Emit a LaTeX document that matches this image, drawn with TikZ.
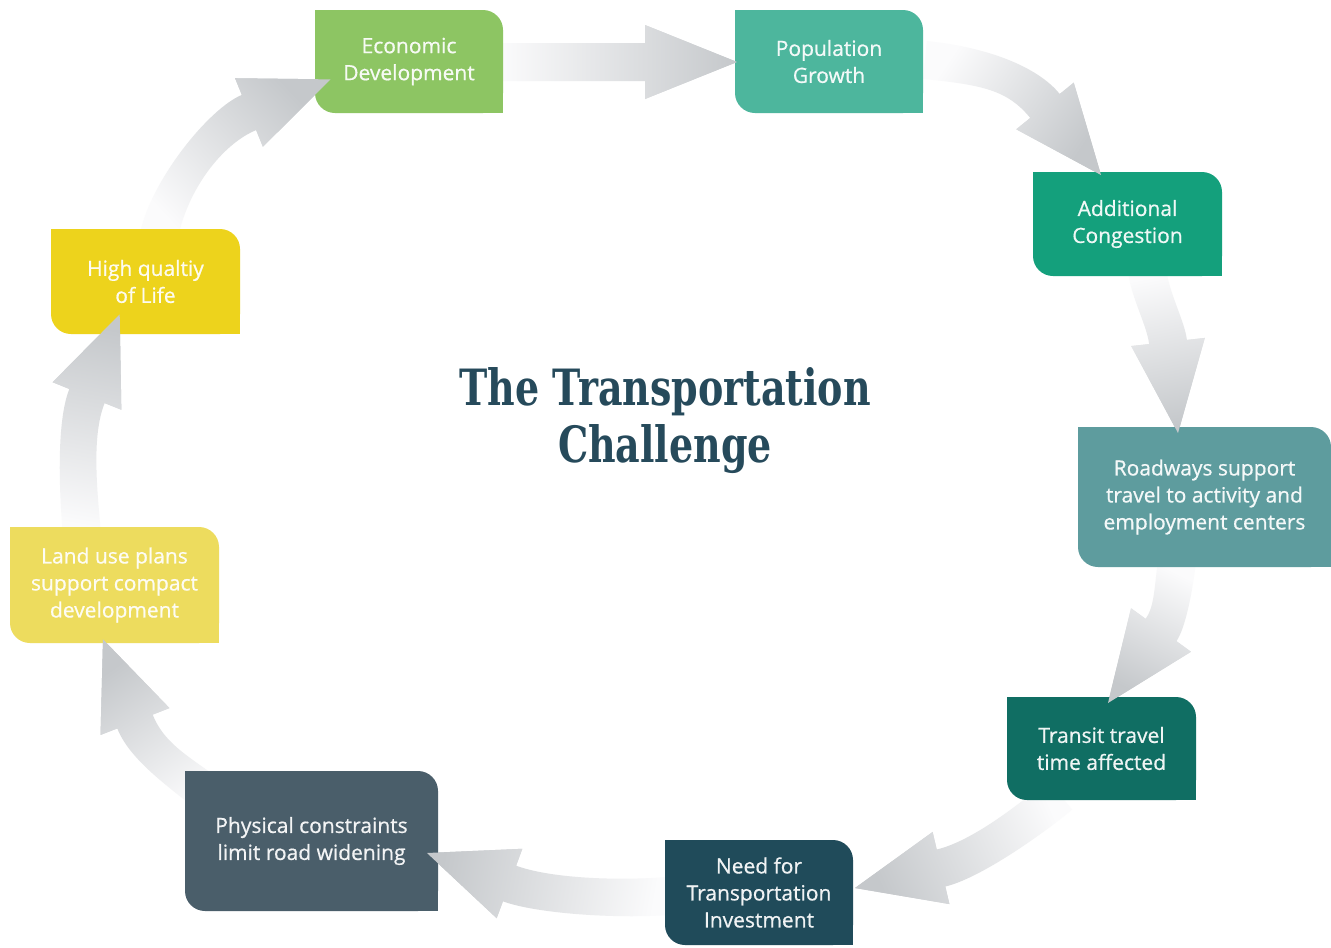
\documentclass[tikz,border=0pt]{standalone}
\usepackage{fontspec}
\usetikzlibrary{calc}
\newfontfamily\boxfam[FakeBold=0.6]{Open Sans}
\newfontfamily\titlefam[FakeStretch=0.76]{DejaVu Serif}
\definecolor{cEcon}{HTML}{8DC563}
\definecolor{cPop}{HTML}{4DB69D}
\definecolor{cAdd}{HTML}{14A07C}
\definecolor{cRoad}{HTML}{5E9C9E}
\definecolor{cTransit}{HTML}{106E63}
\definecolor{cNeed}{HTML}{204B5A}
\definecolor{cPhys}{HTML}{4A5E6A}
\definecolor{cLand}{HTML}{EDDC5E}
\definecolor{cHigh}{HTML}{EDD31C}
\definecolor{arrowhead}{HTML}{C5C8CB}
\definecolor{arrowtail}{HTML}{FBFBFC}
\definecolor{titlec}{HTML}{264A5B}
\pgfdeclarelayer{bg}\pgfdeclarelayer{arrows}\pgfdeclarelayer{boxes}
\pgfsetlayers{bg,arrows,boxes,main}
\tikzset{
  box/.style={inner sep=0pt, outer sep=0pt, align=center, text=white, text opacity=0.93,
    font=\boxfam\fontsize{21}{27}\selectfont},
  arrowshade/.style={top color=arrowhead, bottom color=arrowtail},
  titlestyle/.style={align=center, text=titlec, font=\titlefam\bfseries\fontsize{50}{57}\selectfont}
}
\newcommand\boxfill[2]{%
  \fill[#2, rounded corners=20pt] (#1.north west) rectangle (#1.south east);
  \fill[#2] (#1.north west) rectangle ++(22pt,-22pt);
  \fill[#2] (#1.south east) rectangle ++(-22pt,22pt);}
\newcommand\mkarrow[6]{%
  \coordinate (#1A) at (#2);
  \coordinate (#1C) at (#3);
  \coordinate (#1B) at (#4);
  \coordinate (#1P) at (#5);
  \coordinate (#1D) at ($(#1P)!#6!(#1B)$);
  \coordinate (#1Al) at ($(#1A)!19pt!90:(#1C)$);
  \coordinate (#1Ar) at ($(#1A)!19pt!-90:(#1C)$);
  \coordinate (#1Bl) at ($(#1B)!19pt!90:(#1P)$);
  \coordinate (#1Br) at ($(#1B)!19pt!-90:(#1P)$);
  \coordinate (#1Hl) at ($(#1B)!37pt!90:(#1P)$);
  \coordinate (#1Hr) at ($(#1B)!37pt!-90:(#1P)$);
  \coordinate (#1Cl) at ($(#1C)+(#1Al)-(#1A)$);
  \coordinate (#1Cr) at ($(#1C)+(#1Ar)-(#1A)$);
  \coordinate (#1Dl) at ($(#1D)+(#1Bl)-(#1B)$);
  \coordinate (#1Dr) at ($(#1D)+(#1Br)-(#1B)$);}
\newcommand\arrowpath[1]{(#1Al) .. controls (#1Cl) and (#1Dl) .. (#1Bl) -- (#1Hl) -- (#1P) -- (#1Hr) -- (#1Br) .. controls (#1Dr) and (#1Cr) .. (#1Ar) -- cycle}
\newcommand\shadearrow[2]{\shade[arrowshade, shading angle=#2] \arrowpath{#1};}
\newcommand\arrowtip[2]{\begin{scope}\clip (#1Hl) -- (#1P) -- (#1Hr) -- cycle; \shadearrow{#1}{#2}\end{scope}}
\begin{document}
\begin{tikzpicture}[x=1pt, y=1pt]
\useasboundingbox (0,0) rectangle (1331,-948);
\begin{pgfonlayer}{bg}
\fill[white] (0,0) rectangle (1331,-948);
\end{pgfonlayer}

% boxes (text)
\node[box, minimum width=188pt, minimum height=103pt] (econ) at (409,-61.5) {Economic\\Development};
\node[box, minimum width=188pt, minimum height=103pt] (pop) at (829,-61.5) {Population\\Growth};
\node[box, minimum width=189pt, minimum height=104pt] (add) at (1127.5,-224) {Additional\\Congestion};
\node[box, minimum width=253pt, minimum height=140pt] (road) at (1204.5,-497) {Roadways support\\travel to activity and\\employment centers};
\node[box, minimum width=189pt, minimum height=103pt] (transit) at (1101.5,-748.5) {Transit travel\\time affected};
\node[box, minimum width=188pt, minimum height=105pt] (need) at (759,-892.5) {Need for\\Transportation\\Investment};
\node[box, minimum width=253pt, minimum height=140pt] (phys) at (311.5,-841) {Physical constraints\\limit road widening};
\node[box, minimum width=209pt, minimum height=116pt] (land) at (114.5,-585) {Land use plans\\support compact\\development};
\node[box, minimum width=189pt, minimum height=105pt] (high) at (145.5,-281.5) {High qualtiy\\of Life};

\node[titlestyle] (title) at (665,-421) {The Transportation\\Challenge};

\begin{pgfonlayer}{boxes}
\boxfill{econ}{cEcon}
\boxfill{pop}{cPop}
\boxfill{add}{cAdd}
\boxfill{road}{cRoad}
\boxfill{transit}{cTransit}
\boxfill{need}{cNeed}
\boxfill{phys}{cPhys}
\boxfill{land}{cLand}
\boxfill{high}{cHigh}
\end{pgfonlayer}

% arrows
\mkarrow{a1}{500,-62}{560,-62}{645,-62}{737,-62}{1.4}
\mkarrow{a2}{925,-60}{985,-66}{1045,-106}{1101,-175}{1.4}
\mkarrow{a3}{1147,-270}{1150,-295}{1168,-342}{1178,-433}{1.2}
\mkarrow{a4}{1177,-560}{1173,-595}{1161,-630}{1108,-703}{1.15}
\mkarrow{a5}{1060,-795}{1030,-820}{941,-868}{855,-888}{1.4}
\mkarrow{a6}{668,-896}{615,-900}{509.5,-883.5}{427,-853}{1.4}
\mkarrow{a7}{215,-800}{185,-775}{135,-721.5}{103,-639.4}{1.4}
\mkarrow{a8}{82,-535}{78,-490}{87,-396}{119.7,-314.3}{1.4}
\mkarrow{a9}{158,-240}{168,-185}{249,-112.5}{330.5,-79.4}{1.4}

\begin{pgfonlayer}{arrows}
\shadearrow{a1}{-90}
\shadearrow{a2}{-124}
\shadearrow{a3}{-169}
\shadearrow{a4}{154}
\shadearrow{a5}{114}
\shadearrow{a6}{80}
\shadearrow{a7}{35}
\shadearrow{a8}{-10}
\shadearrow{a9}{-47}
\end{pgfonlayer}

\arrowtip{a1}{-90}
\arrowtip{a2}{-124}
\arrowtip{a3}{-169}
\arrowtip{a4}{154}
\arrowtip{a5}{114}
\arrowtip{a6}{80}
\arrowtip{a7}{35}
\arrowtip{a8}{-10}
\arrowtip{a9}{-47}
\end{tikzpicture}
\end{document}
